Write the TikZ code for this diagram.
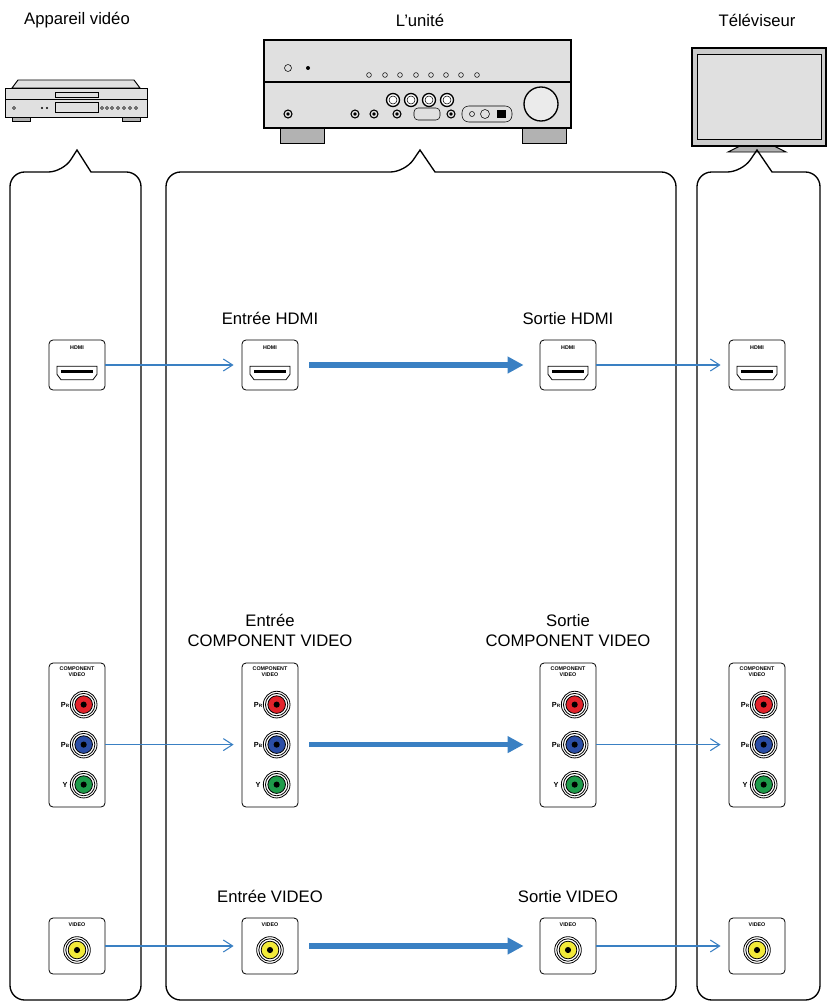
\documentclass[tikz,border=0pt]{standalone}
\usepackage{fontspec}
\setmainfont{Liberation Sans}
\usetikzlibrary{arrows.meta}
\definecolor{linkblue}{HTML}{3A80C3}
\definecolor{jackred}{HTML}{E3232B}
\definecolor{jackblue}{HTML}{2B4EA6}
\definecolor{jackgreen}{HTML}{1E9B4A}
\definecolor{jackyellow}{HTML}{F2EA3A}
\tikzset{
	port/.style={draw, rounded corners=3pt, line width=0.6pt, fill=white, minimum width=42pt, inner sep=0pt},
	tag/.style={font=\fontsize{4}{4.5}\selectfont\bfseries, align=center, inner sep=0pt},
	side/.style={font=\fontsize{5.5}{5.5}\selectfont\bfseries, inner sep=0pt},
	title/.style={font=\fontsize{12.5}{14.5}\selectfont, align=center},
	link/.style={linkblue, line width=0.8pt, -{Straight Barb[length=7pt,width=9pt]}, shorten >=6pt},
	flow/.style={linkblue, line width=4pt, -{Triangle[length=12pt,width=12pt]}},
	panel/.style={line width=1pt, rounded corners=11pt}
}
% jack: position, colour
\newcommand{\jack}[2]{
	\draw[line width=0.6pt, fill=white] (#1) circle (10pt);
	\draw[line width=0.6pt] (#1) circle (8.4pt);
	\draw[line width=0.6pt, fill=#2] (#1) circle (6.6pt);
	\fill (#1) circle (2.3pt);
}
% HDMI port: name, position
\newcommand{\hdmiport}[2]{
	\node[port, minimum height=37.5pt] (#1) at (#2) {};
	\node[tag] at ([yshift=-6pt]#1.north) {HDMI};
	\draw[line width=0.6pt] ([shift={(-15pt,-1pt)}]#1.center) -- ++(30pt,0) -- ++(0,-6pt) -- ++(-3pt,-4pt) -- ++(-24pt,0) -- ++(-3pt,4pt) -- cycle;
	\fill ([shift={(-12pt,-3.5pt)}]#1.center) rectangle ++(24pt,-2.5pt);
}
% component port: name, position
\newcommand{\compport}[2]{
	\node[port, minimum height=108pt] (#1) at (#2) {};
	\node[tag] at ([yshift=-7pt]#1.north) {COMPONENT\\VIDEO};
	\coordinate (#1-pr) at ([shift={(5pt,-31.5pt)}]#1.north);
	\coordinate (#1-pb) at ([shift={(5pt,-61.5pt)}]#1.north);
	\coordinate (#1-y) at ([shift={(5pt,-91.5pt)}]#1.north);
	\coordinate (#1-l) at (#1.west |- #1-pb);
	\coordinate (#1-r) at (#1.east |- #1-pb);
	\node[side] at ([xshift=-14pt]#1-pr) {P{\fontsize{3.5}{3.5}\selectfont R}};
	\node[side] at ([xshift=-14pt]#1-pb) {P{\fontsize{3.5}{3.5}\selectfont B}};
	\node[side] at ([xshift=-14pt]#1-y) {Y};
	\jack{#1-pr}{jackred}
	\jack{#1-pb}{jackblue}
	\jack{#1-y}{jackgreen}
}
% video port: name, position
\newcommand{\videoport}[2]{
	\node[port, minimum height=42pt] (#1) at (#2) {};
	\node[tag] at ([yshift=-5pt]#1.north) {VIDEO};
	\coordinate (#1-j) at ([yshift=-3pt]#1.center);
	\jack{#1-j}{jackyellow}
}

\begin{document}
\begin{tikzpicture}[x=0.75pt, y=-0.75pt]
	\useasboundingbox (0,0) rectangle (828,1006);

	% titles
	\node[title] (tvid) at (77,20) {Appareil vidéo};
	\node[title] (tunit) at (420,20) {L’unité};
	\node[title] (ttv) at (757,20) {Téléviseur};

	% video player
	\draw[fill=black!12, line width=0.7pt] (12,88) -- (18,80) -- (134,80) -- (140,88) -- cycle;
	\draw[fill=black!12, line width=0.7pt] (5,88) rectangle (147,117);
	\draw[fill=black!30] (12,117) rectangle (30,121);
	\draw[fill=black!30] (122,117) rectangle (140,121);
	\draw (5,99) -- (147,99);
	\draw (55,92) rectangle (98,97);
	\draw (55,102) rectangle (98,112);
	\foreach \x in {102,107,112,118,124,130,136} \draw (\x,108) circle (1.6);
	\draw (14,108) circle (1.6);
	\foreach \x in {42,47} \fill (\x,108) circle (1.2);

	% receiver
	\draw[fill=black!30, line width=0.7pt] (280,128) rectangle (324,143);
	\draw[fill=black!30, line width=0.7pt] (522,128) rectangle (566,143);
	\draw[fill=black!12, line width=1pt] (264,40) rectangle (571,128);
	\draw[line width=0.8pt] (264,82) -- (571,82);
	\draw (288,68) circle (3.5);
	\fill (308,68) circle (2);
	\foreach \x in {369,385,400,416,431,446,461,477} \draw (\x,75) circle (2.4);
	\foreach \x in {393,411,429,447} {\draw[line width=1pt, fill=white] (\x,100) circle (6.5); \draw (\x,100) circle (4);}
	\foreach \x in {288,355,374,397,451} {\draw[line width=0.8pt] (\x,114) circle (4); \fill (\x,114) circle (1.8);}
	\draw[rounded corners=3pt] (414,108) rectangle (440,120);
	\draw[rounded corners=5pt] (462,106) rectangle (512,122);
	\draw (472,114) circle (2.5);
	\draw (485,114) circle (4.5);
	\fill (497,110) rectangle (506,118);
	\draw[line width=1pt, fill=black!8] (541,104) circle (17);

	% television
	\draw[fill=black!30, line width=0.7pt] (740,146) -- (774,146) -- (786,152) -- (728,152) -- cycle;
	\draw[fill=black!20, line width=1pt] (692,48) rectangle (826,146);
	\draw[fill=black!12] (697,54) rectangle (821,139);

	% panels
	\draw[panel] (10,1000) -- (10,172) -- (63,172) [sharp corners] -- (77,150) -- (91,172) [rounded corners=11pt] -- (141,172) -- (141,1000) -- cycle;
	\draw[panel] (166,1000) -- (166,172) -- (405,172) [sharp corners] -- (420,150) -- (435,172) [rounded corners=11pt] -- (676,172) -- (676,1000) -- cycle;
	\draw[panel] (697,1000) -- (697,172) -- (742,172) [sharp corners] -- (757,150) -- (772,172) [rounded corners=11pt] -- (820,172) -- (820,1000) -- cycle;

	% HDMI row
	\hdmiport{srchdmi}{77,365}
	\hdmiport{inhdmi}{270,365}
	\hdmiport{outhdmi}{568,365}
	\hdmiport{tvhdmi}{757,365}
	\node[title, anchor=south] at ([yshift=8pt]inhdmi.north) {Entrée HDMI};
	\node[title, anchor=south] at ([yshift=8pt]outhdmi.north) {Sortie HDMI};
	\draw[link] (srchdmi) -- (inhdmi);
	\draw[link] (outhdmi) -- (tvhdmi);
	\draw[flow] ([xshift=8pt]inhdmi.east) -- ([xshift=-12pt]outhdmi.west);

	% component row
	\compport{srccomp}{77,735}
	\compport{incomp}{270,735}
	\compport{outcomp}{568,735}
	\compport{tvcomp}{757,735}
	\node[title, anchor=south, inner sep=2pt] at ([yshift=10pt]incomp.north) {Entrée\\COMPONENT VIDEO};
	\node[title, anchor=south, inner sep=2pt] at ([yshift=10pt]outcomp.north) {Sortie\\COMPONENT VIDEO};
	\draw[link] (srccomp-r) -- (incomp-l);
	\draw[link] (outcomp-r) -- (tvcomp-l);
	\draw[flow] ([xshift=8pt]incomp-r) -- ([xshift=-12pt]outcomp-l);

	% video row
	\videoport{srcvid}{77,946}
	\videoport{invid}{270,946}
	\videoport{outvid}{568,946}
	\videoport{tvvid}{757,946}
	\node[title, anchor=south] at ([yshift=8pt]invid.north) {Entrée VIDEO};
	\node[title, anchor=south] at ([yshift=8pt]outvid.north) {Sortie VIDEO};
	\draw[link] (srcvid) -- (invid);
	\draw[link] (outvid) -- (tvvid);
	\draw[flow] ([xshift=8pt]invid.east) -- ([xshift=-12pt]outvid.west);
\end{tikzpicture}
\end{document}
